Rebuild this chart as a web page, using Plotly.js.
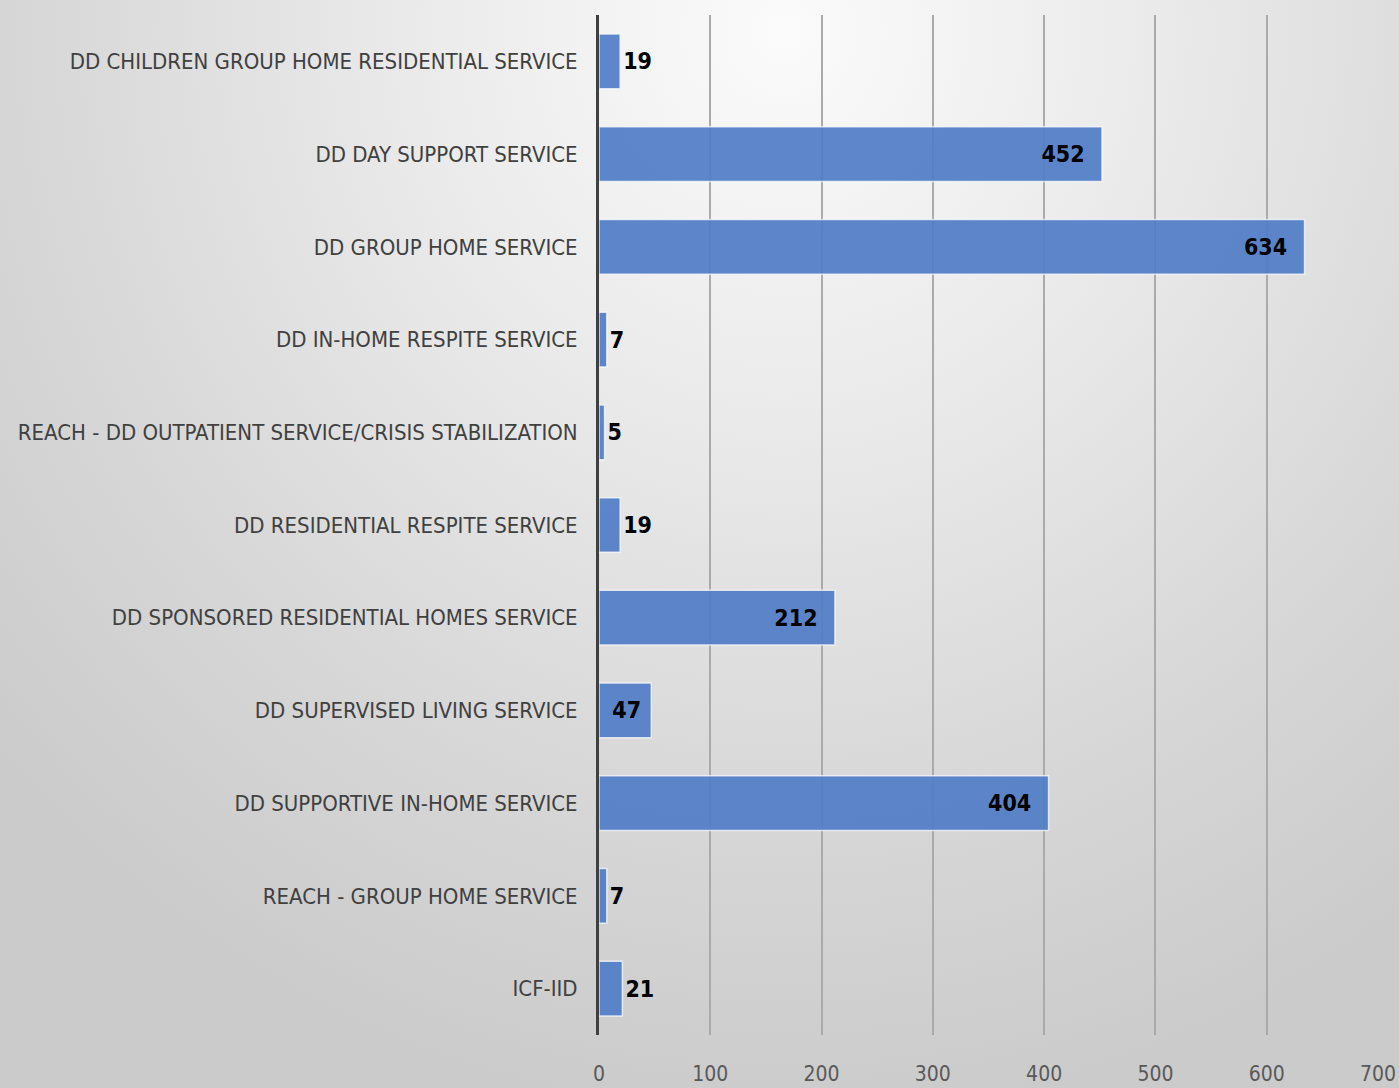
<!DOCTYPE html>
<html>
<head>
<meta charset="utf-8">
<script src="https://cdn.plot.ly/plotly-3.0.1.min.js"></script>
<style>
  html, body { margin:0; padding:0; }
  body {
    width:1399px; height:1088px; overflow:hidden;
    background: radial-gradient(ellipse 75% 100% at 56% 3%, #fbfbfb 0%, #e9e9e9 38%, #d7d7d7 72%, #cbcbcb 100%);
  }
  #chart { width:1399px; height:1088px; }
</style>
</head>
<body>
<div id="chart"></div>
<script>
const categories = [
  "DD CHILDREN GROUP HOME RESIDENTIAL SERVICE",
  "DD DAY SUPPORT SERVICE",
  "DD GROUP HOME SERVICE",
  "DD IN-HOME RESPITE SERVICE",
  "REACH - DD OUTPATIENT SERVICE/CRISIS STABILIZATION",
  "DD RESIDENTIAL RESPITE SERVICE",
  "DD SPONSORED RESIDENTIAL HOMES SERVICE",
  "DD SUPERVISED LIVING SERVICE",
  "DD SUPPORTIVE IN-HOME SERVICE",
  "REACH - GROUP HOME SERVICE",
  "ICF-IID"
];
const values = [19, 452, 634, 7, 5, 19, 212, 47, 404, 7, 21];
const tickValues = [0, 100, 200, 300, 400, 500, 600, 700];

const narrow = '"DejaVu Sans Condensed", "Liberation Sans Narrow", sans-serif';
const labelPos = values.map(v => v >= 40 ? 'inside' : 'outside');
const labelText = values.map(v => v >= 100 ? String(v) + '\u00a0\u00a0' : (v >= 40 ? String(v) + '\u00a0' : String(v)));

const trace = {
  type: 'bar',
  orientation: 'h',
  x: values,
  y: categories,
  text: labelText,
  textposition: labelPos,
  insidetextanchor: 'end',
  constraintext: 'none',
  cliponaxis: false,
  textfont: { family: narrow, size: 23, color: '#000000', weight: 'bold' },
  insidetextfont: { family: narrow, size: 23, color: '#000000', weight: 'bold' },
  outsidetextfont: { family: narrow, size: 23, color: '#000000', weight: 'bold' },
  marker: {
    color: 'rgb(82,126,200)',
    opacity: 0.93,
    line: { color: 'rgba(255,255,255,0.75)', width: 1.5 }
  },
  hoverinfo: 'x+y'
};

const layout = {
  width: 1399,
  height: 1088,
  margin: { l: 599, r: 21, t: 15, b: 53, pad: 0 },
  paper_bgcolor: 'rgba(0,0,0,0)',
  plot_bgcolor: 'rgba(0,0,0,0)',
  showlegend: false,
  bargap: 0.41,
  xaxis: {
    range: [0, 700],
    tickvals: tickValues,
    ticktext: tickValues.map(String),
    showgrid: true,
    gridcolor: '#aaaaaa',
    gridwidth: 2,
    zeroline: false,
    showline: false,
    ticks: '',
    ticklabelstandoff: 24,
    tickfont: { family: narrow, size: 21, color: '#595959' },
    fixedrange: true
  },
  yaxis: {
    type: 'category',
    autorange: 'reversed',
    showgrid: false,
    zeroline: false,
    showline: true,
    linecolor: '#404040',
    linewidth: 3,
    ticks: '',
    ticklabelstandoff: 14,
    tickfont: { family: narrow, size: 22, color: '#404040' },
    fixedrange: true
  }
};

Plotly.newPlot('chart', [trace], layout, { displayModeBar: false, staticPlot: true });
</script>
</body>
</html>
